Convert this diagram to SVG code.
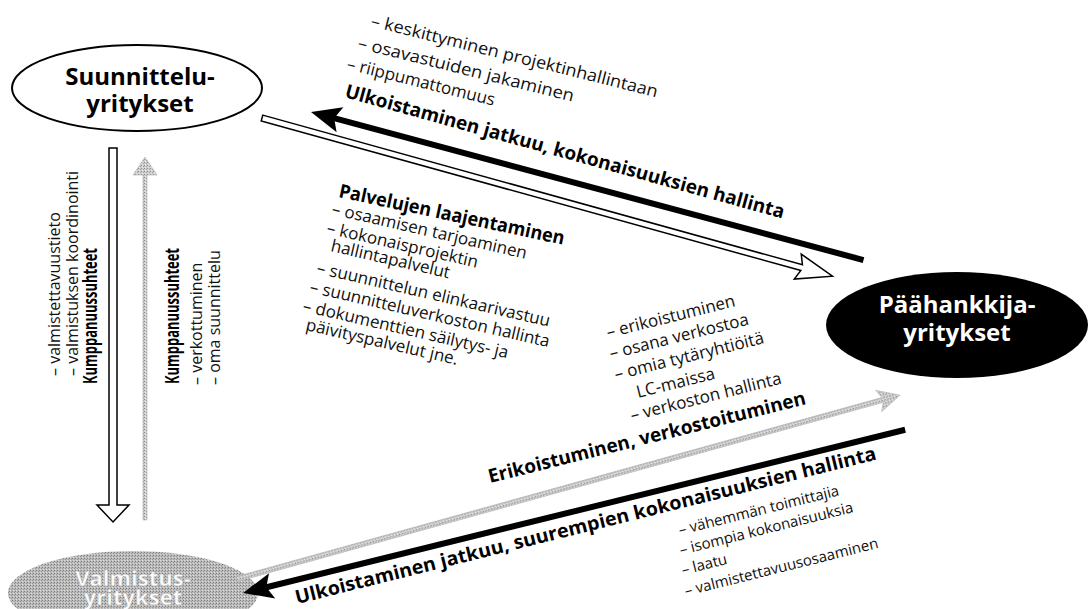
<svg xmlns="http://www.w3.org/2000/svg" width="1091" height="609" viewBox="0 0 1091 609">
<defs>
  <pattern id="stip" width="3" height="3" patternUnits="userSpaceOnUse">
    <rect width="3" height="3" fill="#cfcfcf"/>
    <rect x="0" y="0" width="1" height="1" fill="#8a8a8a"/>
    <rect x="2" y="1" width="1" height="1" fill="#a5a5a5"/>
    <rect x="1" y="2" width="1" height="1" fill="#e8e8e8"/>
  </pattern>
  <pattern id="stip2" width="3" height="3" patternUnits="userSpaceOnUse">
    <rect width="3" height="3" fill="#bcbcbc"/>
    <rect x="0" y="0" width="1" height="1" fill="#7c7c7c"/>
    <rect x="2" y="1" width="1" height="1" fill="#959595"/>
    <rect x="1" y="2" width="1" height="1" fill="#dadada"/>
  </pattern>
</defs>
<style>
.t{font-family:"Open Sans","Noto Sans","Liberation Sans",sans-serif;font-size:17px;fill:#111}
.s{font-family:"Open Sans","Noto Sans","Liberation Sans",sans-serif;font-size:15px;fill:#111}
.b{font-family:"Open Sans","Noto Sans","Liberation Sans",sans-serif;font-size:19px;font-weight:bold;fill:#000}
.v{font-family:"Open Sans","Noto Sans","Liberation Sans",sans-serif;font-size:16px;fill:#111}
.vb{font-family:"Open Sans","Noto Sans","Liberation Sans",sans-serif;font-size:19px;font-weight:bold;fill:#000}
.n{font-family:"Open Sans","Noto Sans","Liberation Sans",sans-serif;font-size:24px;font-weight:bold;text-anchor:middle}
.hollow{fill:#fff;stroke:#000;stroke-width:1.5}
.blk{stroke:#000;stroke-width:6;fill:none}
.gry{fill:url(#stip);stroke:#b0b0b0;stroke-width:0.6}
</style>
<rect width="1091" height="609" fill="#fff"/>
<g id="suunnittelu">
  <ellipse cx="137" cy="88" rx="125" ry="43" fill="#fff" stroke="#000" stroke-width="2"/>
  <text class="n"><tspan x="140" y="85">Suunnittelu-</tspan><tspan x="140" y="112">yritykset</tspan></text>
</g>
<g id="paahankkija">
  <ellipse cx="957" cy="325" rx="131" ry="53" fill="#000"/>
  <text class="n" fill="#fff"><tspan x="957" y="313">Päähankkija-</tspan><tspan x="957" y="341">yritykset</tspan></text>
</g>
<g id="valmistus">
  <ellipse cx="133" cy="593" rx="125" ry="42" fill="url(#stip2)"/>
  <text class="n" fill="#fbfbfb" stroke="#9a9a9a" stroke-width="0.4" style="font-size:22px"><tspan x="133" y="586">Valmistus-</tspan><tspan x="133" y="605">yritykset</tspan></text>
</g>
<g id="connectors">
  <polygon class="hollow" points="109,148 117,148 117,505 129,505 113,522 97,505 109,505"/>
  <polygon class="gry" points="143,520 147,520 147,175 157,175 145,157 133,175 143,175"/>
  <g transform="translate(262,118) rotate(15.5)">
    <polygon class="hollow" points="0,-3 560,-3 556,-13 592,0 556,13 560,3 0,3"/>
  </g>
  <g transform="translate(311,112) rotate(15)">
    <line class="blk" x1="20" y1="0" x2="572" y2="0"/>
    <polygon points="0,0 30,-13 24,0 30,13" fill="#000"/>
  </g>
  <g transform="translate(237,579) rotate(-15.5)">
    <polygon class="gry" points="0,-2.5 670,-2.5 666,-11 688,0 666,11 670,2.5 0,2.5"/>
  </g>
  <g transform="translate(243,593) rotate(-13.85)">
    <line class="blk" x1="20" y1="0" x2="682" y2="0"/>
    <polygon points="0,0 30,-13 24,0 30,13" fill="#000"/>
  </g>
</g>
<g id="labels-top">
  <text class="t" transform="translate(370,26) rotate(14)" textLength="295" lengthAdjust="spacingAndGlyphs">– keskittyminen projektinhallintaan</text>
  <text class="t" transform="translate(357,48) rotate(14)" textLength="222" lengthAdjust="spacingAndGlyphs">– osavastuiden jakaminen</text>
  <text class="t" transform="translate(346,69) rotate(14)">– riippumattomuus</text>
  <text class="b" transform="translate(344,97) rotate(15.5)" textLength="455" lengthAdjust="spacingAndGlyphs">Ulkoistaminen jatkuu, kokonaisuuksien hallinta</text>
</g>
<g id="labels-palvelut">
  <text class="b" transform="translate(338,197) rotate(12)" textLength="230" lengthAdjust="spacingAndGlyphs">Palvelujen laajentaminen</text>
  <text class="t" transform="translate(331,214) rotate(13)">– osaamisen tarjoaminen</text>
  <text class="t" transform="translate(326,233) rotate(13)">– kokonaisprojektin</text>
  <text class="t" transform="translate(330,251) rotate(13)">hallintapalvelut</text>
  <text class="t" transform="translate(316,273) rotate(13)">– suunnittelun elinkaarivastuu</text>
  <text class="t" transform="translate(309,292) rotate(13)">– suunnitteluverkoston hallinta</text>
  <text class="t" transform="translate(302,311) rotate(13)">– dokumenttien säilytys- ja</text>
  <text class="t" transform="translate(305,330) rotate(13)">päivityspalvelut jne.</text>
</g>
<g id="labels-right">
  <text class="t" transform="translate(608,338) rotate(-14)">– erikoistuminen</text>
  <text class="t" transform="translate(611,359) rotate(-14)">– osana verkostoa</text>
  <text class="t" transform="translate(616,380) rotate(-14)">– omia tytäryhtiöitä</text>
  <text class="t" transform="translate(638,398) rotate(-14)">LC-maissa</text>
  <text class="t" transform="translate(632,421) rotate(-14)">– verkoston hallinta</text>
  <text class="b" transform="translate(490,483) rotate(-14)">Erikoistuminen, verkostoituminen</text>
</g>
<g id="labels-bottom">
  <text class="b" transform="translate(297,604) rotate(-14)" textLength="598" lengthAdjust="spacingAndGlyphs">Ulkoistaminen jatkuu, suurempien kokonaisuuksien hallinta</text>
  <text class="s" transform="translate(680,535) rotate(-14)">– vähemmän toimittajia</text>
  <text class="s" transform="translate(681,555) rotate(-14)">– isompia kokonaisuuksia</text>
  <text class="s" transform="translate(683,575) rotate(-14)">– laatu</text>
  <text class="s" transform="translate(686,596) rotate(-14)">– valmistettavuusosaaminen</text>
</g>
<g id="labels-left">
  <text class="v" transform="translate(60,376) rotate(-90)">– valmistettavuustieto</text>
  <text class="v" transform="translate(78,376) rotate(-90)">– valmistuksen koordinointi</text>
  <text class="vb" transform="translate(97,384) rotate(-90)" textLength="136" lengthAdjust="spacingAndGlyphs">Kumppanuussuhteet</text>
  <text class="vb" transform="translate(179,384) rotate(-90)" textLength="136" lengthAdjust="spacingAndGlyphs">Kumppanuussuhteet</text>
  <text class="v" transform="translate(202,385) rotate(-90)">– verkottuminen</text>
  <text class="v" transform="translate(220,385) rotate(-90)">– oma suunnittelu</text>
</g>
</svg>
